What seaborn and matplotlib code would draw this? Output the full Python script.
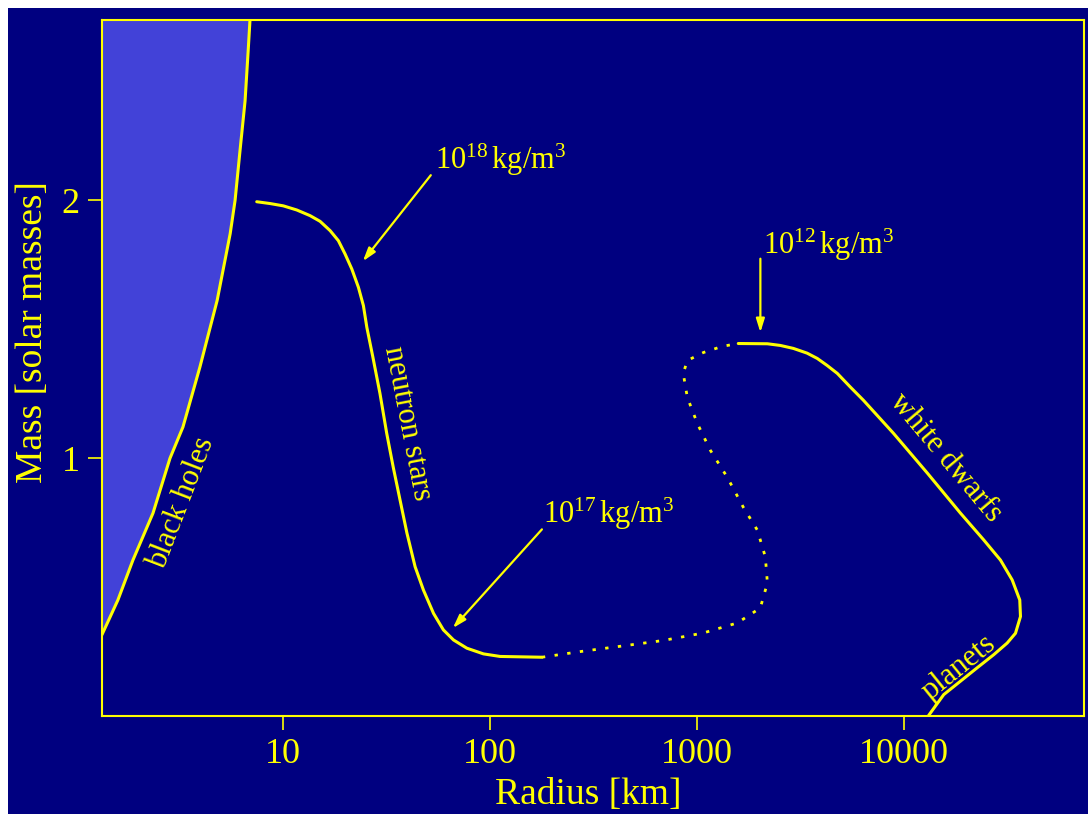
import numpy as np
import pandas as pd
import matplotlib
matplotlib.use("Agg")
import matplotlib.pyplot as plt
from matplotlib.patches import Rectangle
from matplotlib.ticker import NullLocator
import seaborn as sns

# ---------------- data (radius in km, mass in solar masses) ----------------
bh_radius = [1.331, 1.59, 1.88, 2.35, 2.84, 3.28, 3.96, 4.80, 5.55, 5.86, 6.19, 6.55, 6.78, 6.92]
bh_mass = [0.315, 0.450, 0.605, 0.787, 1.000, 1.121, 1.353, 1.612, 1.871, 2.000, 2.192, 2.386, 2.580, 2.700]

ns_radius = [7.46, 8.65, 10.03, 11.65, 13.51, 15.10, 16.88, 18.51, 19.95, 21.50, 23.14, 24.46, 25.41,
             27.2, 29.4, 31.7, 34.1, 36.8, 39.7, 43.5, 47.7, 53.4, 59.6, 66.7, 77.4, 93.1, 112.1, 178.5]
ns_mass = [1.995, 1.988, 1.979, 1.963, 1.941, 1.919, 1.883, 1.844, 1.792, 1.734, 1.663, 1.592, 1.508,
           1.391, 1.252, 1.097, 0.965, 0.837, 0.710, 0.579, 0.489, 0.398, 0.334, 0.295, 0.263, 0.241,
           0.231, 0.228]

unstable_radius = [178.5, 274, 441, 689, 1075, 1572, 2030, 2197, 2148, 1965, 1680, 1406, 1164, 1007,
                   901, 861, 901, 1077, 1330, 1589]
unstable_mass = [0.228, 0.250, 0.272, 0.293, 0.322, 0.361, 0.419, 0.516, 0.617, 0.721, 0.810, 0.926,
                 1.031, 1.135, 1.236, 1.329, 1.379, 1.410, 1.434, 1.445]

wd_radius = [1589, 2197, 2538, 2934, 3417, 3830, 4270, 4786, 5534, 6397, 8935, 13050, 18850, 24430,
             29430, 33530, 36490, 36780, 34790, 31710, 27320, 22700, 18850, 15650, 13500, 13180]
wd_mass = [1.445, 1.444, 1.4375, 1.426, 1.4077, 1.387, 1.360, 1.329, 1.276, 1.225, 1.097, 0.942, 0.787,
           0.683, 0.605, 0.528, 0.450, 0.386, 0.321, 0.283, 0.238, 0.187, 0.135, 0.083, 0.012, 0.0]

x_ticks = [10, 100, 1000, 10000]
x_tick_labels = ["10", "100", "1000", "10000"]
y_ticks = [1, 2]
y_tick_labels = ["1", "2"]

curve_labels = ["black holes", "neutron stars", "white dwarfs", "planets"]
curve_label_pos = [(3.246, 0.826), (39.8, 1.1355), (15950, 1.0), (18440, 0.187)]
curve_label_rot = [69, -79, -50, 39]

density_labels = [r"$10^{18}\,$kg/m$^{3}$", r"$10^{17}\,$kg/m$^{3}$", r"$10^{12}\,$kg/m$^{3}$"]
density_text_pos = [(54.3, 2.122), (181, 0.748), (2090, 1.794)]
density_arrow_tail = [(51.8, 2.098), (178.5, 0.724), (2032, 1.774)]
density_arrow_head = [(24.3, 1.764), (66.2, 0.341), (2032, 1.488)]

# ---------------- style ----------------
NAVY = "#000080"
YELLOW = "#FFFF00"
FILL = "#4242D8"

sns.set_style("dark", rc={"axes.facecolor": NAVY, "figure.facecolor": "white",
                          "axes.edgecolor": YELLOW, "grid.color": NAVY})
plt.rcParams["font.family"] = ["Liberation Serif", "DejaVu Serif"]
plt.rcParams["mathtext.fontset"] = "custom"
plt.rcParams["mathtext.rm"] = "Liberation Serif"
plt.rcParams["mathtext.it"] = "Liberation Serif:italic"
plt.rcParams["mathtext.default"] = "regular"

W, H = 1088, 814
fig = plt.figure(figsize=(W / 100, H / 100), dpi=100, facecolor="white")
fig.patches.append(Rectangle((8 / W, 0), 1 - 8 / W, 1 - 8 / H, transform=fig.transFigure,
                             facecolor=NAVY, edgecolor="none", zorder=-10))
ax = fig.add_axes([102 / W, 1 - 716 / H, 982 / W, 696 / H])
ax.set_facecolor(NAVY)
ax.grid(False)

ax.set_xscale("log")

# black-hole region
ax.fill_betweenx(bh_mass, 1.0, bh_radius, color=FILL, lw=0, zorder=1)

df_bh = pd.DataFrame({"R": bh_radius, "M": bh_mass})
df_ns = pd.DataFrame({"R": ns_radius, "M": ns_mass})
df_un = pd.DataFrame({"R": unstable_radius, "M": unstable_mass})
df_wd = pd.DataFrame({"R": wd_radius, "M": wd_mass})

line_kw = dict(sort=False, estimator=None, color=YELLOW, ax=ax, zorder=3)
sns.lineplot(data=df_bh, x="R", y="M", lw=2.2, solid_joinstyle="round", **line_kw)
sns.lineplot(data=df_ns, x="R", y="M", lw=2.2, solid_joinstyle="round", **line_kw)
sns.lineplot(data=df_un, x="R", y="M", lw=2.0, linestyle=(0, (1.2, 3.4)), **line_kw)
sns.lineplot(data=df_wd, x="R", y="M", lw=2.2, solid_joinstyle="round", **line_kw)

ax.set_xlim(1.332, 74600)
ax.set_ylim(0, 2.7)

ax.set_xticks(x_ticks)
ax.set_xticklabels(x_tick_labels)
ax.set_yticks(y_ticks)
ax.set_yticklabels(y_tick_labels)
ax.xaxis.set_minor_locator(NullLocator())
ax.tick_params(axis="both", which="major", direction="out", length=10, width=1.2,
               color=YELLOW, labelcolor=YELLOW, labelsize=26)
ax.tick_params(axis="x", pad=6, bottom=True)
ax.tick_params(axis="y", pad=6, left=True)

for s in ax.spines.values():
    s.set_visible(True)
    s.set_color(YELLOW)
    s.set_linewidth(1.5)

ax.set_xlabel("Radius [km]", fontsize=27, color=YELLOW)
ax.set_ylabel("Mass [solar masses]", fontsize=27, color=YELLOW)
ax.xaxis.set_label_coords(0.495, -0.088)
ax.yaxis.set_label_coords(-0.053, 0.552)

for txt, (x, y), rot in zip(curve_labels, curve_label_pos, curve_label_rot):
    ax.text(x, y, txt, rotation=rot, rotation_mode="anchor", ha="center", va="center",
            fontsize=22, color=YELLOW, zorder=4)

for txt, tp, tail, head in zip(density_labels, density_text_pos, density_arrow_tail, density_arrow_head):
    ax.text(tp[0], tp[1], txt, ha="left", va="baseline", fontsize=22, color=YELLOW, zorder=4)
    ax.annotate("", xy=head, xytext=tail,
                arrowprops=dict(arrowstyle="-|>,head_length=0.8,head_width=0.25",
                                color=YELLOW, lw=1.6, shrinkA=0, shrinkB=0),
                zorder=4)

fig.savefig("out.png", dpi=100, facecolor=fig.get_facecolor())
